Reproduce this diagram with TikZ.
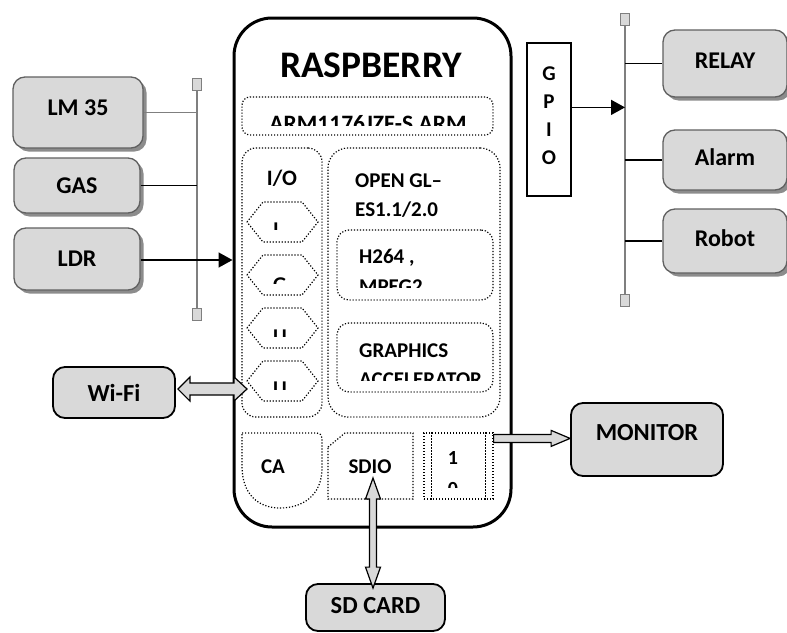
\documentclass[tikz,border=0pt]{standalone}
\usepackage{fontspec}
\setmainfont{Carlito}
\usetikzlibrary{arrows.meta,shadows,calc}
\definecolor{fillgrey}{HTML}{D9D9D9}
\definecolor{boxgrey}{HTML}{606060}
\definecolor{shadowgrey}{HTML}{8C8C8C}
\definecolor{busgrey}{HTML}{7F7F7F}
\newcommand\myfs[1]{\fontsize{#1}{#1}\selectfont}
\begin{document}
\begin{tikzpicture}[x=1pt,y=-1pt,
  gbox/.style={draw=boxgrey, line width=1.3pt, fill=fillgrey, rounded corners=12pt,
    general shadow={fill=shadowgrey, shadow xshift=3.5pt, shadow yshift=-3.5pt},
    inner sep=0pt, font=\myfs{24}\bfseries},
  sbox/.style={draw=black, line width=1.8pt, fill=fillgrey, rounded corners=12pt,
    inner sep=0pt, font=\myfs{24.5}\bfseries},
  dotline/.style={line width=1.2pt, dash pattern=on 1.2pt off 1.8pt},
  dotbox/.style={dotline, draw, inner sep=0pt},
  lbl/.style={inner sep=0pt, font=\myfs{21}\bfseries},
  bus/.style={draw=busgrey, line width=1.8pt},
  sq/.style={draw=busgrey, fill=fillgrey, line width=1pt, minimum width=9pt, minimum height=12pt, inner sep=0pt},
  conn/.style={draw=black, line width=1.6pt},
  tip/.style={-{Triangle[length=14pt,width=15pt]}},
  fat/.style={draw=black, line width=1.2pt, fill=fillgrey, line join=miter}
]
\useasboundingbox (0,0) rectangle (787,632);

% ---- main board
\node[draw, line width=3pt, rounded corners=38pt, minimum width=277pt, minimum height=509pt] (rpi) at (372.5,272.5) {};
\node[inner sep=0pt, font=\myfs{37.5}\bfseries, anchor=base] (title) at (371,77) {RASPBERRY};

% ARM box
\node[dotbox, rounded corners=8pt, minimum width=251pt, minimum height=38pt] (arm) at (367.5,116) {};
\begin{scope}
  \clip (240,100) rectangle (495,125);
  \node[lbl, font=\myfs{23.5}\bfseries, anchor=base] (armt) at (368,131) {ARM1176JZF-S ARM};
\end{scope}

% I/O column
\node[dotbox, rounded corners=14pt, minimum width=80pt, minimum height=269pt] (io) at (282,282.5) {};
\node[lbl, font=\myfs{22}\bfseries, anchor=base] (iot) at (282,185) {I/O};
\foreach \n/\y/\t/\top/\cl in {1/222/I/223/229, 2/275/G/278/283, 3/328/U/330/336, 4/381/U/382/389} {
  \draw[dotline] (247,\y) -- (263,\y-20) -- (302,\y-20) -- (318,\y) -- (302,\y+20) -- (263,\y+20) -- cycle;
  \coordinate (hex\n) at (247,\y);
  \begin{scope}
    \clip (250,\y-20) rectangle (315,\cl);
    \node[lbl, anchor=base west] (hext\n) at (273,\top+13.5) {\t};
  \end{scope}
}

% graphics column
\node[dotbox, rounded corners=20pt, minimum width=172pt, minimum height=269pt] (gpu) at (414,282.5) {};
\node[lbl, anchor=base west] (ogl1) at (355,187) {OPEN GL\textendash};
\node[lbl, anchor=base west] (ogl2) at (355,216) {ES1.1/2.0};
\node[dotbox, rounded corners=12pt, minimum width=156pt, minimum height=70pt] (h264) at (415,265) {};
\node[lbl, anchor=base west] (h264a) at (359,263) {H264 ,};
\begin{scope}
  \clip (340,240) rectangle (490,287);
  \node[lbl, anchor=base west] (h264b) at (359,293.5) {MPEG2};
\end{scope}
\node[dotbox, rounded corners=12pt, minimum width=156pt, minimum height=69pt] (gfx) at (415,357.5) {};
\node[lbl, anchor=base west] (gfxa) at (359,357) {GRAPHICS};
\begin{scope}
  \clip (340,330) rectangle (490,380);
  \node[lbl, anchor=base west] (gfxb) at (359,386.5) {ACCELERATOR};
\end{scope}

% bottom row
\draw[dotline] (242,433) -- (317,433) to[out=0,in=90] (322,438) -- (322,468)
  .. controls (322,496) and (302,508) .. (280,508)
  .. controls (258,508) and (242,494) .. (242,466) -- cycle;
\node[lbl, anchor=base] (cat) at (273,473) {CA};
\draw[dotline] (328,447) -- (345,433) -- (413,433) -- (413,499) -- (328,499) -- cycle;
\node[lbl, anchor=base] (sdiot) at (370,473) {SDIO};
\node[dotbox, minimum width=69pt, minimum height=66pt] (hd) at (458.5,466) {};
\draw[dotline] ($(hd.north west)+(8,0)$) -- ($(hd.south west)+(8,0)$);
\draw[dotline] ($(hd.north east)+(-8,0)$) -- ($(hd.south east)+(-8,0)$);
\node[lbl, font=\myfs{20}\bfseries, anchor=base] (hd1) at (453,464) {1};
\begin{scope}
  \clip (430,470) rectangle (485,487);
  \node[lbl, font=\myfs{20}\bfseries, anchor=base] (hd2) at (453,495) {0};
\end{scope}

% ---- left sensors and bus
\node[gbox, minimum width=130pt, minimum height=71pt, text depth=10pt] (lm) at (78,112.5) {LM 35};
\node[gbox, minimum width=126pt, minimum height=55pt] (gas) at (77,185.5) {GAS};
\node[gbox, minimum width=126pt, minimum height=62pt] (ldr) at (77,259) {LDR};
\node[sq] (lbt) at (197,84.5) {};
\node[sq] (lbb) at (197,314) {};
\draw[bus] (lbt.south) -- (lbb.north);
\draw[bus] (lm.east) -- (lm.east -| lbt);
\draw[conn] (gas.east) -- (gas.east -| lbt);
\draw[conn, tip] ($(ldr.east)+(0,1)$) -- ($(ldr.east -| rpi.west)+(0,1)$);

% ---- GPIO and actuators
\node[draw, line width=1.2pt, minimum width=44pt, minimum height=153pt, inner sep=0pt] (gpio) at (549,119.5) {};
\node[lbl, anchor=base] (g1) at (549,80) {G};
\node[lbl, anchor=base] (g2) at (549,108) {P};
\node[lbl, anchor=base] (g3) at (549,136) {I};
\node[lbl, anchor=base] (g4) at (549,164) {O};
\node[sq] (rbt) at (625,19) {};
\node[sq] (rbb) at (625,300.5) {};
\draw[bus] (rbt.south) -- (rbb.north);
\coordinate (gpo) at ($(gpio.north east)+(0,65)$);
\draw[conn, tip] (gpo) -- (gpo -| rbt);
\node[gbox, minimum width=124pt, minimum height=67pt, text depth=6pt] (relay) at (725,63.5) {RELAY};
\node[gbox, minimum width=124pt, minimum height=60pt, text depth=6pt] (alarm) at (725,160) {Alarm};
\node[gbox, minimum width=124pt, minimum height=64pt, text depth=6pt] (robot) at (725,241) {Robot};
\draw[conn] (relay.west -| rbt) -- (relay.west);
\draw[conn] (alarm.west -| rbt) -- (alarm.west);
\draw[conn] (robot.west -| rbt) -- (robot.west);

% ---- Wi-Fi
\node[sbox, minimum width=122pt, minimum height=51pt] (wifi) at (114,392.5) {Wi-Fi};
\coordinate (wA) at ($(wifi.east)+(2,-3.5)$);
\coordinate (wB) at ($(hex4)+(0,8)$);
\draw[fat] (wA) -- ($(wA)+(12,-12)$) -- ($(wA)+(12,-6)$) -- ($(wB)+(-13,-6)$) -- ($(wB)+(-13,-12)$) -- (wB)
  -- ($(wB)+(-13,12)$) -- ($(wB)+(-13,6)$) -- ($(wA)+(12,6)$) -- ($(wA)+(12,12)$) -- cycle;

% ---- Monitor
\node[sbox, minimum width=152pt, minimum height=73pt, text depth=14pt] (mon) at (647,439.5) {MONITOR};
\coordinate (mA) at ($(hd.north east)+(0,6)$);
\coordinate (mB) at (mA -| mon.west);
\draw[fat] ($(mA)+(0,-4)$) -- ($(mB)+(-19,-4)$) -- ($(mB)+(-19,-8)$) -- (mB) -- ($(mB)+(-19,8)$) -- ($(mB)+(-19,4)$) -- ($(mA)+(0,4)$) -- cycle;

% ---- SD card
\node[sbox, minimum width=139pt, minimum height=47pt, text depth=4pt] (sd) at (375.5,607.5) {SD CARD};
\coordinate (sA) at ($(sdiot.base)+(3,5)$);
\coordinate (sB) at ($(sA |- sd.north)+(0,5)$);
\draw[fat] (sA) -- ($(sA)+(7.5,21)$) -- ($(sA)+(3.5,21)$) -- ($(sB)+(3.5,-21)$) -- ($(sB)+(7.5,-21)$) -- (sB)
  -- ($(sB)+(-7.5,-21)$) -- ($(sB)+(-3.5,-21)$) -- ($(sA)+(-3.5,21)$) -- ($(sA)+(-7.5,21)$) -- cycle;
\end{tikzpicture}
\end{document}
